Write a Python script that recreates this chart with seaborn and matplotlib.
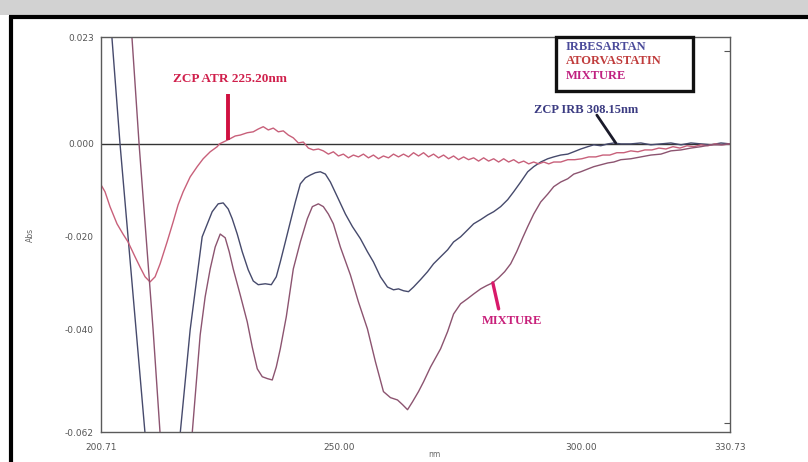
import matplotlib
matplotlib.use("Agg")
import matplotlib.pyplot as plt
import seaborn as sns
import pandas as pd
from matplotlib.patches import Rectangle
from matplotlib.lines import Line2D

# ---------------- data ----------------
irb_nm = [202.16, 202.99, 204.64, 206.30, 209.82, 212.93, 217.07, 219.14, 221.62, 223.69,
          224.93, 225.97, 227.00, 227.83, 228.87, 229.90, 231.14, 232.18, 233.21, 234.66,
          235.91, 236.94, 237.77, 238.81, 239.84, 240.88, 241.91, 242.95, 243.98, 245.02,
          246.05, 247.09, 248.12, 249.57, 251.23, 252.68, 254.33, 255.78, 257.02, 258.47,
          259.92, 261.17, 262.20, 263.24, 264.27, 265.31, 266.76, 268.21, 269.45, 270.90,
          272.35, 273.59, 275.04, 276.49, 277.73, 279.18, 280.63, 281.87, 283.32, 284.77,
          286.01, 287.46, 288.91, 290.15, 291.60, 293.05, 294.29, 295.74, 297.19, 298.43,
          299.88, 301.33, 302.57, 304.02, 305.47, 306.71, 308.16, 310.23, 312.30, 314.37,
          316.44, 318.51, 320.58, 322.65, 324.72, 326.79, 328.86, 330.73]
irb_abs = [0.0350, 0.0226, 0.0000, -0.0200, -0.0624, -0.0950, -0.0624, -0.0400, -0.0200, -0.0146,
           -0.0129, -0.0127, -0.0140, -0.0161, -0.0194, -0.0232, -0.0271, -0.0295, -0.0303, -0.0301,
           -0.0303, -0.0286, -0.0254, -0.0211, -0.0168, -0.0125, -0.0086, -0.0073, -0.0067, -0.0062,
           -0.0060, -0.0065, -0.0082, -0.0114, -0.0151, -0.0178, -0.0204, -0.0232, -0.0254, -0.0286,
           -0.0308, -0.0314, -0.0312, -0.0316, -0.0318, -0.0308, -0.0292, -0.0275, -0.0258, -0.0243,
           -0.0228, -0.0211, -0.0200, -0.0185, -0.0172, -0.0163, -0.0153, -0.0146, -0.0135, -0.0120,
           -0.0103, -0.0082, -0.0060, -0.0049, -0.0039, -0.0032, -0.0028, -0.0024, -0.0022, -0.0017,
           -0.0011, -0.0006, -0.0002, -0.0004, 0.0000, 0.0002, 0.0000, 0.0000, 0.0002, -0.0002,
           0.0000, 0.0002, -0.0002, 0.0002, 0.0000, -0.0002, 0.0002, 0.0000]

atr_nm = [200.71, 201.54, 202.57, 204.02, 205.26, 206.30, 207.75, 208.78, 209.82, 210.85,
          211.89, 212.93, 214.37, 215.62, 216.65, 217.69, 219.14, 220.59, 221.83, 223.28,
          224.73, 225.20, 227.00, 228.45, 229.49, 230.94, 232.18, 233.21, 234.25, 235.29,
          236.32, 237.36, 238.39, 239.43, 240.46, 241.50, 242.53, 243.57, 244.60, 245.64,
          246.67, 247.71, 248.74, 249.78, 250.81, 251.85, 252.88, 253.92, 254.95, 255.99,
          257.02, 258.06, 259.09, 260.13, 261.17, 262.20, 263.24, 264.27, 265.31, 266.34,
          267.38, 268.41, 269.45, 270.48, 271.52, 272.55, 273.59, 274.62, 275.66, 276.69,
          277.73, 278.76, 279.80, 280.83, 281.87, 282.90, 283.94, 284.97, 286.01, 287.04,
          288.08, 289.11, 290.15, 291.18, 292.22, 293.26, 294.29, 295.74, 297.19, 298.64,
          300.09, 301.54, 302.99, 304.44, 305.88, 307.33, 308.78, 310.23, 311.68, 313.13,
          314.58, 316.03, 317.48, 318.93, 320.38, 321.83, 323.28, 324.72, 326.17, 327.62,
          329.07, 330.73]
atr_abs = [-0.0088, -0.0103, -0.0135, -0.0172, -0.0194, -0.0211, -0.0243, -0.0265, -0.0286, -0.0297,
           -0.0286, -0.0258, -0.0211, -0.0168, -0.0131, -0.0103, -0.0071, -0.0049, -0.0032, -0.0017,
           -0.0006, 0.0000, 0.0009, 0.0017, 0.0019, 0.0024, 0.0026, 0.0032, 0.0037, 0.0030,
           0.0034, 0.0026, 0.0028, 0.0019, 0.0013, 0.0002, 0.0004, -0.0009, -0.0013, -0.0011,
           -0.0015, -0.0022, -0.0017, -0.0026, -0.0022, -0.0030, -0.0024, -0.0028, -0.0022, -0.0030,
           -0.0024, -0.0032, -0.0026, -0.0030, -0.0022, -0.0028, -0.0022, -0.0028, -0.0019, -0.0026,
           -0.0019, -0.0028, -0.0022, -0.0030, -0.0024, -0.0032, -0.0026, -0.0034, -0.0028, -0.0034,
           -0.0030, -0.0037, -0.0030, -0.0037, -0.0032, -0.0039, -0.0032, -0.0039, -0.0034, -0.0041,
           -0.0037, -0.0043, -0.0039, -0.0043, -0.0039, -0.0043, -0.0039, -0.0039, -0.0034, -0.0034,
           -0.0032, -0.0028, -0.0028, -0.0024, -0.0024, -0.0019, -0.0019, -0.0015, -0.0017, -0.0013,
           -0.0013, -0.0009, -0.0011, -0.0006, -0.0009, -0.0004, -0.0006, -0.0002, -0.0004, 0.0000,
           -0.0002, 0.0000]

mix_nm = [206.09, 207.13, 208.58, 210.03, 211.48, 212.93, 215.00, 217.07, 219.55, 221.21,
          222.24, 223.28, 224.31, 225.35, 226.38, 227.21, 228.04, 229.49, 230.94, 231.97,
          233.01, 234.04, 235.08, 236.11, 236.94, 237.77, 239.01, 240.46, 241.91, 243.36,
          244.40, 245.64, 246.67, 247.71, 248.74, 250.19, 252.26, 253.92, 255.78, 257.44,
          259.09, 260.54, 261.99, 263.03, 264.07, 265.10, 266.34, 267.38, 268.83, 270.90,
          272.35, 273.59, 275.04, 276.49, 277.73, 279.18, 280.42, 281.66, 282.90, 284.15,
          285.39, 286.63, 287.87, 288.91, 290.15, 291.60, 293.05, 294.29, 295.74, 297.19,
          298.43, 299.88, 301.33, 302.57, 304.02, 305.47, 306.71, 308.16, 310.23, 312.30,
          314.37, 316.44, 318.51, 320.58, 322.65, 324.72, 326.79, 328.86, 330.73]
mix_abs = [0.0305, 0.0226, 0.0000, -0.0200, -0.0400, -0.0624, -0.0900, -0.0940, -0.0624, -0.0411,
           -0.0329, -0.0269, -0.0222, -0.0194, -0.0202, -0.0232, -0.0269, -0.0325, -0.0383, -0.0437,
           -0.0484, -0.0501, -0.0505, -0.0508, -0.0480, -0.0441, -0.0372, -0.0269, -0.0211, -0.0161,
           -0.0135, -0.0129, -0.0135, -0.0151, -0.0172, -0.0222, -0.0282, -0.0340, -0.0398, -0.0469,
           -0.0533, -0.0546, -0.0551, -0.0561, -0.0572, -0.0555, -0.0533, -0.0512, -0.0480, -0.0441,
           -0.0404, -0.0366, -0.0344, -0.0333, -0.0323, -0.0312, -0.0305, -0.0299, -0.0288, -0.0275,
           -0.0258, -0.0232, -0.0202, -0.0178, -0.0151, -0.0125, -0.0108, -0.0092, -0.0082, -0.0075,
           -0.0065, -0.0060, -0.0054, -0.0049, -0.0045, -0.0041, -0.0039, -0.0034, -0.0032, -0.0028,
           -0.0024, -0.0022, -0.0015, -0.0013, -0.0009, -0.0006, -0.0002, -0.0002, 0.0000]

series_names = ["IRBESARTAN", "ATORVASTATIN", "MIXTURE"]
y_tick_values = [0.023, 0.000, -0.020, -0.040, -0.062]
y_tick_labels = ["0.023", "0.000", "-0.020", "-0.040", "-0.062"]
x_tick_values = [200.71, 250.00, 300.00, 330.73]
x_tick_labels = ["200.71", "250.00", "300.00", "330.73"]

# ---------------- figure ----------------
sns.set_style("white")
plt.rcParams["font.family"] = ["DejaVu Sans"]

fig = plt.figure(figsize=(8.08, 4.62), dpi=100)
ax = fig.add_axes([0.125, 0.0649, 0.7785, 0.855])

df = pd.concat([
    pd.DataFrame({"nm": irb_nm, "abs": irb_abs, "series": series_names[0]}),
    pd.DataFrame({"nm": atr_nm, "abs": atr_abs, "series": series_names[1]}),
    pd.DataFrame({"nm": mix_nm, "abs": mix_abs, "series": series_names[2]}),
], ignore_index=True)

palette = {"IRBESARTAN": "#464a6c", "ATORVASTATIN": "#c8607a", "MIXTURE": "#8c5470"}
sns.lineplot(data=df, x="nm", y="abs", hue="series", palette=palette, sort=False,
             estimator=None, legend=False, linewidth=1.0, ax=ax)

ax.axhline(0, color="#333333", lw=1.0, zorder=1)

ax.set_xlim(200.71, 330.73)
ax.set_ylim(-0.062, 0.023)

ax.set_yticks(y_tick_values)
ax.set_yticklabels(y_tick_labels)
ax.set_xticks(x_tick_values)
ax.set_xticklabels(x_tick_labels)
ax.tick_params(axis="y", which="major", length=0, labelsize=6.5, labelcolor="#555555", pad=5)
ax.tick_params(axis="x", which="major", length=0, labelsize=6.5, labelcolor="#555555", pad=8)
ax.set_yticks([0.02, 0.0, -0.02, -0.04, -0.06], minor=True)
ax.set_xticks([250.0, 300.0], minor=True)
ax.tick_params(axis="both", which="minor", direction="in", length=4, width=0.8,
               color="#555555", top=True, right=True)

for s in ax.spines.values():
    s.set_color("#5a5a5a")
    s.set_linewidth(1.0)

ax.set_xlabel("nm", fontsize=5.5, color="#666666")
ax.xaxis.set_label_coords(0.53, -0.045)
ax.set_ylabel("Abs", fontsize=5.5, color="#666666")
ax.yaxis.set_label_coords(-0.105, 0.5)

serif = ["Liberation Serif", "DejaVu Serif"]

# ZCP ATR annotation
ax.text(227.4, 0.0140, "ZCP ATR 225.20nm", color="#d0204c", fontsize=9.5,
        fontweight="bold", family=serif, ha="center", va="center")
ax.plot([226.9, 226.9], [0.0108, 0.0008], color="#d01040", lw=2.8, solid_capstyle="butt")

# ZCP IRB annotation
ax.text(300.9, 0.0072, "ZCP IRB 308.15nm", color="#3c3c82", fontsize=9,
        fontweight="bold", family=serif, ha="center", va="center")
ax.plot([303.2, 307.1], [0.0062, 0.0002], color="#1a1a2a", lw=2.0)

# MIXTURE annotation
ax.text(285.6, -0.0381, "MIXTURE", color="#c8207a", fontsize=9,
        fontweight="bold", family=serif, ha="center", va="center")
ax.plot([281.7, 282.9], [-0.0299, -0.0355], color="#d81a6a", lw=2.4)

# legend box
ax.add_patch(Rectangle((0.7234, 0.863), 0.2178, 0.137, transform=ax.transAxes,
                       fill=False, edgecolor="#111111", lw=2.4, clip_on=False, zorder=5))
legend_colors = ["#4a4a9a", "#c03c3c", "#c02080"]
for name, yy, c in zip(series_names, [0.975, 0.939, 0.901], legend_colors):
    ax.text(0.739, yy, name, transform=ax.transAxes, color=c, fontsize=9,
            fontweight="bold", family=serif, ha="left", va="center")

# outer frame
fig.patches.append(Rectangle((0, 1 - 15 / 462), 1, 15 / 462, transform=fig.transFigure,
                             facecolor="#d2d2d2", edgecolor="none", zorder=0))
fig.lines.append(Line2D([9 / 808, 1], [1 - 17 / 462, 1 - 17 / 462], transform=fig.transFigure,
                        color="black", lw=3.0, solid_capstyle="butt"))
fig.lines.append(Line2D([10.5 / 808, 10.5 / 808], [0, 1 - 15.5 / 462], transform=fig.transFigure,
                        color="black", lw=3.0, solid_capstyle="butt"))

fig.savefig("out.png", dpi=100)
